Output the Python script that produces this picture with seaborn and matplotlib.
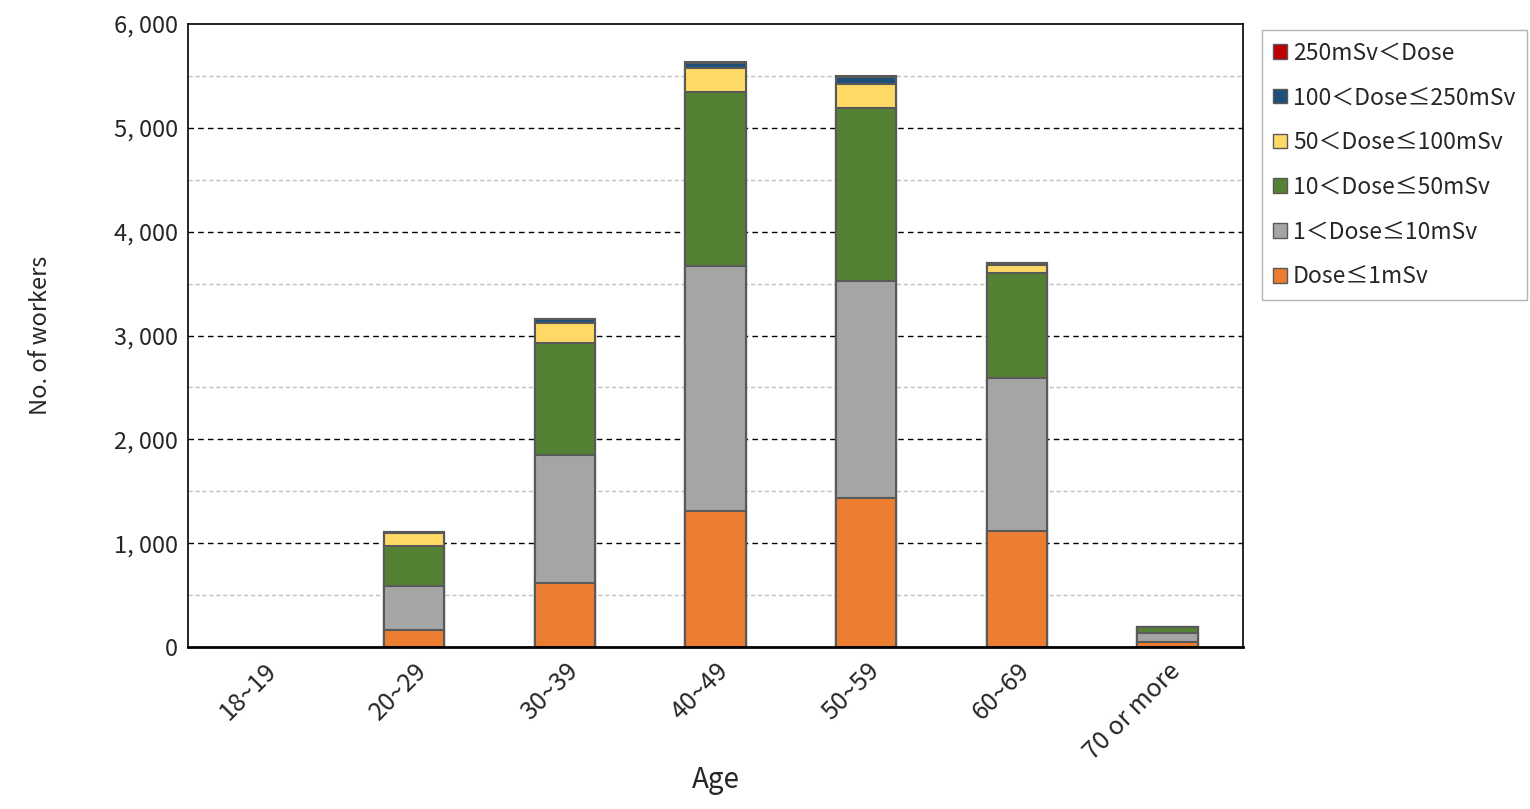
import matplotlib
matplotlib.use("Agg")
import matplotlib.pyplot as plt
import seaborn as sns
import numpy as np
import pandas as pd
from matplotlib.patches import Patch

ages = ["18~19", "20~29", "30~39", "40~49", "50~59", "60~69", "70 or more"]
series_names = ["Dose≤1mSv", "1＜Dose≤10mSv", "10＜Dose≤50mSv",
                "50＜Dose≤100mSv", "100＜Dose≤250mSv", "250mSv＜Dose"]
dose_le1 = [0, 165, 617, 1310, 1435, 1118, 50]
dose_1_10 = [0, 425, 1233, 2360, 2091, 1472, 85]
dose_10_50 = [0, 385, 1080, 1677, 1667, 1013, 55]
dose_50_100 = [0, 125, 190, 231, 231, 77, 5]
dose_100_250 = [0, 10, 35, 48, 66, 15, 2]
dose_250 = [0, 0, 3, 4, 5, 2, 0]
colors = ["#ED7D31", "#A5A5A5", "#548235", "#FFD966", "#1F4E79", "#C00000"]

sns.set_style("white")
plt.rcParams['font.family'] = ['Noto Sans CJK JP', 'DejaVu Sans']

layers = [dose_le1, dose_1_10, dose_10_50, dose_50_100, dose_100_250, dose_250]
cum = np.cumsum(np.array(layers), axis=0)

fig = plt.figure(figsize=(15.3, 8.09), dpi=100)
ax = fig.add_axes([188/1530, 1-647/809, (1243-188)/1530, (647-24)/809])

for i in range(len(layers)-1, -1, -1):
    df = pd.DataFrame({"age": ages, "v": cum[i]})
    sns.barplot(data=df, x="age", y="v", color=colors[i], width=0.4,
                edgecolor="#595959", linewidth=1.5, saturation=1, ax=ax)
for p in ax.patches:
    if p.get_height() == 0:
        p.set_visible(False)

ax.set_ylim(0, 6000)
ax.set_xlim(-0.5, 6.5)
ax.set_yticks(range(0, 6001, 1000))
ax.set_yticklabels([f"{v:,}".replace(",", ", ") for v in range(0, 6001, 1000)], fontsize=17)
for y in range(500, 6000, 500):
    if y % 1000 == 0:
        ax.axhline(y, color="black", ls=(0, (4, 3)), lw=1, zorder=0)
    else:
        ax.axhline(y, color="#BFBFBF", ls=(0, (3, 2)), lw=1, zorder=0)
ax.set_axisbelow(True)
ax.set_xticks(np.arange(-0.5, 6.6, 1), minor=True)
ax.tick_params(axis="x", which="minor", length=6, direction="in", color="black")
ax.tick_params(axis="x", which="major", length=0, pad=8)
ax.set_xticklabels(ages, rotation=45, ha="right", rotation_mode="anchor", fontsize=18)
ax.set_xlabel("Age", fontsize=20, labelpad=0)
ax.set_ylabel("No. of workers", fontsize=17, labelpad=45)
for s in ax.spines.values():
    s.set_color("black"); s.set_linewidth(1.2)
ax.spines["bottom"].set_linewidth(2)

handles = [Patch(facecolor=colors[i], edgecolor="#595959", label=series_names[i])
           for i in range(len(layers)-1, -1, -1)]
leg = fig.legend(handles=handles, loc="upper left", bbox_to_anchor=(1262/1530, 1-30/809),
                 fontsize=16.5, frameon=True, fancybox=False, edgecolor="#A0A0A0",
                 handlelength=0.6, handleheight=0.6, handletextpad=0.25,
                 labelspacing=0.95, borderpad=0.5, borderaxespad=0)
fig.savefig("out.png", dpi=100)
